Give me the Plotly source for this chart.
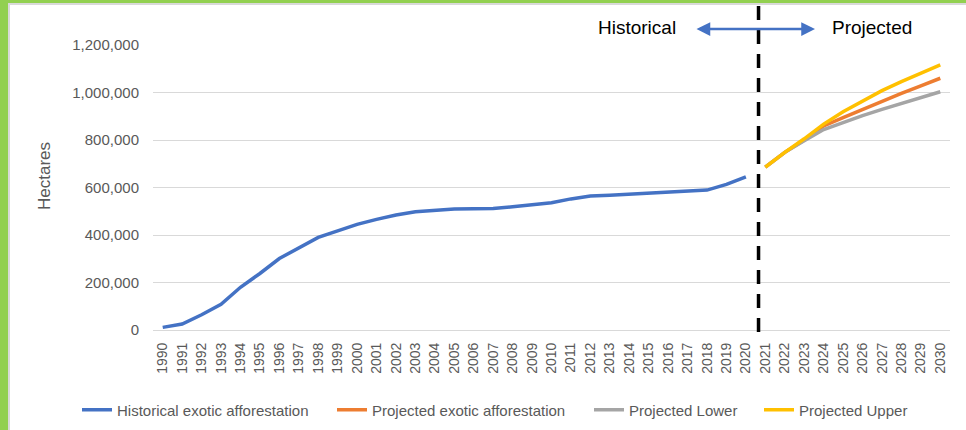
import plotly.graph_objects as go

# ---- data -------------------------------------------------------------
hist_years = list(range(1990, 2021))
hist_area = [
    11000, 25000, 64000, 108000, 180000, 238000, 301000, 346000, 390000, 417000,
    445000, 466000, 484000, 498000, 505000, 510000, 511000, 512000, 519000, 527000,
    536000, 552000, 564000, 567000, 571000, 574000, 578000, 582000, 589000, 613000,
    645000,
]

proj_years = list(range(2021, 2031))
proj_mid = [686000, 748000, 800000, 859000, 894000, 929000, 964000, 996000, 1028000, 1060000]
proj_lower = [686000, 748000, 797000, 844000, 873000, 903000, 929000, 954000, 978000, 1003000]
proj_upper = [686000, 748000, 805000, 867000, 919000, 965000, 1008000, 1046000, 1081000, 1116000]

all_years = list(range(1990, 2031))
split_year = 2020.65

# ---- layout geometry (pixels) -----------------------------------------
W, H = 966, 430
L, R, T, B = 153, 16, 45, 100


def px_x(x):
    return (x - L) / (W - L - R)


def px_y(y):
    return (H - B - y) / (H - T - B)


BLUE = "#4472C4"
ORANGE = "#ED7D31"
GRAY = "#A5A5A5"
GOLD = "#FFC000"
TXT = "#595959"
GRID = "#D9D9D9"
FONT = "Liberation Sans, Arial, sans-serif"

fig = go.Figure()
# (name, x, y, colour, legend id, left edge of legend text in px)
series = [
    ("Historical exotic afforestation", hist_years, hist_area, BLUE, "legend", 117),
    ("Projected exotic afforestation", proj_years, proj_mid, ORANGE, "legend2", 372),
    ("Projected Lower", proj_years, proj_lower, GRAY, "legend3", 629),
    ("Projected Upper", proj_years, proj_upper, GOLD, "legend4", 799),
]
legend_layouts = {}
for name, xs, ys, col, leg, text_left in series:
    fig.add_trace(go.Scatter(
        x=xs, y=ys, name=name, mode="lines",
        line=dict(color=col, width=3.5),
        hoverinfo="skip", legend=leg,
    ))
    legend_layouts[leg] = dict(
        orientation="h", x=px_x(text_left - 40), y=px_y(410),
        xanchor="left", yanchor="middle",
        font=dict(family=FONT, size=15, color=TXT),
        bgcolor="rgba(0,0,0,0)", itemwidth=30,
    )

shapes = [
    # outer frame strips
    dict(type="rect", xref="paper", yref="paper",
         x0=px_x(0), x1=px_x(8), y0=px_y(H), y1=px_y(0),
         fillcolor="#92D050", line=dict(width=0), layer="above"),
    dict(type="rect", xref="paper", yref="paper",
         x0=px_x(0), x1=px_x(W), y0=px_y(3), y1=px_y(0),
         fillcolor="#92D050", line=dict(width=0), layer="above"),
    dict(type="rect", xref="paper", yref="paper",
         x0=px_x(8), x1=px_x(10), y0=px_y(H), y1=px_y(3),
         fillcolor=GRID, line=dict(width=0), layer="above"),
    dict(type="rect", xref="paper", yref="paper",
         x0=px_x(8), x1=px_x(W), y0=px_y(5), y1=px_y(3),
         fillcolor=GRID, line=dict(width=0), layer="above"),
    # historical / projected divider
    dict(type="line", xref="x", yref="paper",
         x0=split_year, x1=split_year, y0=px_y(332), y1=px_y(5),
         line=dict(color="black", width=3.5, dash="14px,10px"), layer="above"),
]

annotations = [
    dict(text="Historical", xref="paper", yref="paper",
         x=px_x(637), y=px_y(27), showarrow=False,
         font=dict(family=FONT, size=19, color="black"),
         xanchor="center", yanchor="middle"),
    dict(text="Projected", xref="paper", yref="paper",
         x=px_x(871.5), y=px_y(27), showarrow=False,
         font=dict(family=FONT, size=19, color="black"),
         xanchor="center", yanchor="middle"),
    dict(text="", xref="paper", yref="paper",
         x=px_x(815), y=px_y(29), ax=-120, ay=0,
         showarrow=True, arrowside="end+start", arrowhead=2,
         arrowsize=1.1, arrowwidth=2.5, arrowcolor=BLUE),
    dict(text="Hectares", xref="paper", yref="paper",
         x=px_x(44), y=px_y(176), showarrow=False, textangle=-90,
         font=dict(family=FONT, size=17, color=TXT),
         xanchor="center", yanchor="middle"),
]

fig.update_layout(
    width=W, height=H,
    margin=dict(l=L, r=R, t=T, b=B, autoexpand=False),
    paper_bgcolor="white", plot_bgcolor="white",
    font=dict(family=FONT, color=TXT),
    showlegend=True,
    shapes=shapes,
    annotations=annotations,
    hovermode=False,
    **legend_layouts,
)

fig.update_xaxes(
    range=[1989.5, 2030.5],
    tickmode="array", tickvals=all_years, ticktext=[str(y) for y in all_years],
    tickangle=-90, tickfont=dict(family=FONT, size=14, color=TXT),
    showgrid=False, zeroline=False,
    showline=False, ticks="outside", ticklen=6, tickcolor="rgba(0,0,0,0)",
    fixedrange=True,
)
fig.update_yaxes(
    range=[0, 1200000], tickvals=[0, 200000, 400000, 600000, 800000, 1000000, 1200000],
    tickformat=",", tickfont=dict(family=FONT, size=15, color=TXT),
    showgrid=True, gridcolor=GRID, gridwidth=1.3,
    zeroline=True, zerolinecolor=GRID, zerolinewidth=1.3,
    showline=False, ticks="outside", ticklen=10, tickcolor="rgba(0,0,0,0)",
    fixedrange=True,
)

fig.write_html("out.html", config={"displayModeBar": False})
